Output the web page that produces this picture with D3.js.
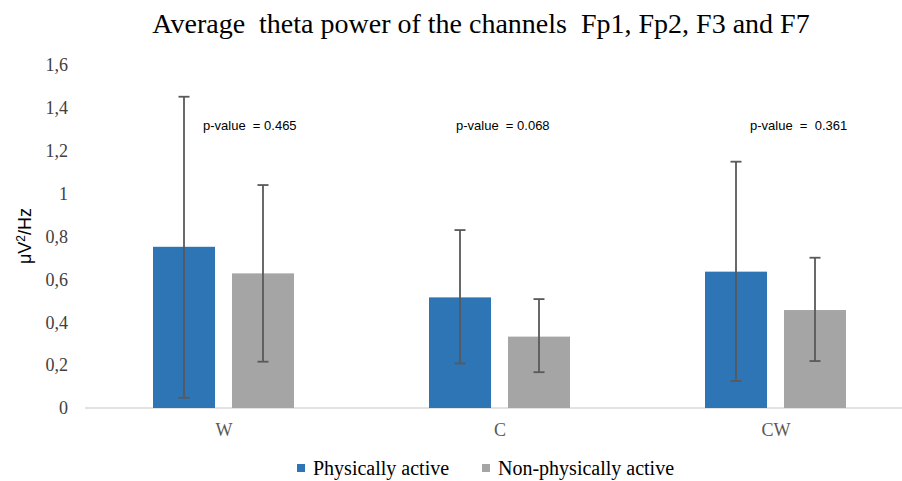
<!DOCTYPE html>
<html>
<head>
<meta charset="utf-8">
<script src="https://cdn.jsdelivr.net/npm/d3@7"></script>
<style>
html,body{margin:0;padding:0;background:#fff;}
svg{display:block;}
</style>
</head>
<body>
<svg id="chart" width="902" height="481"></svg>
<script>
const categories = ["W", "C", "CW"];
const seriesNames = ["Physically active", "Non-physically active"];
const activeValues = [0.752, 0.516, 0.636];
const nonActiveValues = [0.628, 0.333, 0.457];
const activeErrLow = [0.048, 0.208, 0.126];
const activeErrHigh = [1.452, 0.830, 1.149];
const nonActiveErrLow = [0.216, 0.167, 0.219];
const nonActiveErrHigh = [1.040, 0.508, 0.701];
const pValues = ["p-value  = 0.465", "p-value  = 0.068", "p-value  =  0.361"];
const yTicks = [0, 0.2, 0.4, 0.6, 0.8, 1, 1.2, 1.4, 1.6];
const colors = ["#2E75B6", "#A5A5A5"];

const svg = d3.select("#chart");
const x0 = d3.scaleBand().domain(categories).range([85, 913]).paddingInner(0).paddingOuter(0);
const x1 = d3.scaleBand().domain(seriesNames).range([68, 209]).paddingInner(0.215);
const y = d3.scaleLinear().domain([0, 1.6]).range([408, 65]);

const fmt = v => String(v).replace(".", ",");

// y tick labels
svg.append("g").selectAll("text").data(yTicks).join("text")
  .attr("x", 68).attr("y", d => y(d)).attr("dy", "0.35em")
  .attr("text-anchor", "end")
  .style("font-family", "'Liberation Serif', 'Times New Roman', serif")
  .style("font-size", "18px").style("fill", "#404040")
  .text(fmt);

// baseline
svg.append("line").attr("x1", 85).attr("x2", 902).attr("y1", y(0)).attr("y2", y(0))
  .attr("stroke", "#D9D9D9").attr("stroke-width", 1.5);

const data = categories.map((c, i) => ({
  cat: c,
  vals: [
    {s: seriesNames[0], v: activeValues[i], lo: activeErrLow[i], hi: activeErrHigh[i], col: colors[0]},
    {s: seriesNames[1], v: nonActiveValues[i], lo: nonActiveErrLow[i], hi: nonActiveErrHigh[i], col: colors[1]}
  ]
}));

const groups = svg.append("g").selectAll("g").data(data).join("g")
  .attr("transform", d => `translate(${x0(d.cat)},0)`);

groups.selectAll("rect").data(d => d.vals).join("rect")
  .attr("x", d => x1(d.s)).attr("width", x1.bandwidth())
  .attr("y", d => y(d.v)).attr("height", d => y(0) - y(d.v))
  .attr("fill", d => d.col);

const cx = d => x1(d.s) + x1.bandwidth() / 2;
const eb = groups.selectAll("g.eb").data(d => d.vals).join("g").attr("class", "eb");
eb.append("line")
  .attr("x1", cx).attr("x2", cx)
  .attr("y1", d => y(d.lo)).attr("y2", d => y(d.hi))
  .attr("stroke", "#595959").attr("stroke-width", 1.8);
eb.append("line")
  .attr("x1", d => cx(d) - 5.5).attr("x2", d => cx(d) + 5.5)
  .attr("y1", d => y(d.hi)).attr("y2", d => y(d.hi))
  .attr("stroke", "#595959").attr("stroke-width", 1.8);
eb.append("line")
  .attr("x1", d => cx(d) - 5.5).attr("x2", d => cx(d) + 5.5)
  .attr("y1", d => y(d.lo)).attr("y2", d => y(d.lo))
  .attr("stroke", "#595959").attr("stroke-width", 1.8);

// category labels
svg.append("g").selectAll("text").data(categories).join("text")
  .attr("x", d => x0(d) + x0.bandwidth() / 2 + 1).attr("y", 436)
  .attr("text-anchor", "middle")
  .style("font-family", "'Liberation Serif', 'Times New Roman', serif")
  .style("font-size", "18px").style("fill", "#595959")
  .text(d => d);

// p-values
const pX = [203, 456, 750];
svg.append("g").selectAll("text").data(pValues).join("text")
  .attr("x", (d, i) => pX[i]).attr("y", 130)
  .attr("xml:space", "preserve")
  .style("font-family", "'Liberation Sans', Arial, sans-serif")
  .style("font-size", "13px").style("fill", "#000")
  .text(d => d);

// title
svg.append("text").attr("x", 481).attr("y", 33).attr("text-anchor", "middle")
  .attr("xml:space", "preserve")
  .style("font-family", "'Liberation Serif', 'Times New Roman', serif")
  .style("font-size", "28px").style("fill", "#000")
  .text("Average  theta power of the channels  Fp1, Fp2, F3 and F7");

// y-axis label
svg.append("text").attr("transform", "translate(31,236) rotate(-90)")
  .attr("text-anchor", "middle")
  .style("font-family", "'Liberation Sans', Arial, sans-serif")
  .style("font-size", "18px").style("fill", "#000")
  .html('μV<tspan dy="-6" font-size="12px">2</tspan><tspan dy="6">/Hz</tspan>');

// legend
const legX = [297, 482];
const leg = svg.append("g").selectAll("g").data(seriesNames).join("g")
  .attr("transform", (d, i) => `translate(${legX[i]},468)`);
leg.append("rect").attr("x", 0).attr("y", -4).attr("width", 8).attr("height", 8)
  .attr("fill", (d, i) => colors[i]);
leg.append("text").attr("x", 16).attr("y", 0).attr("dy", "0.35em")
  .style("font-family", "'Liberation Serif', 'Times New Roman', serif")
  .style("font-size", "20px").style("fill", "#000")
  .text(d => d);
</script>
</body>
</html>
